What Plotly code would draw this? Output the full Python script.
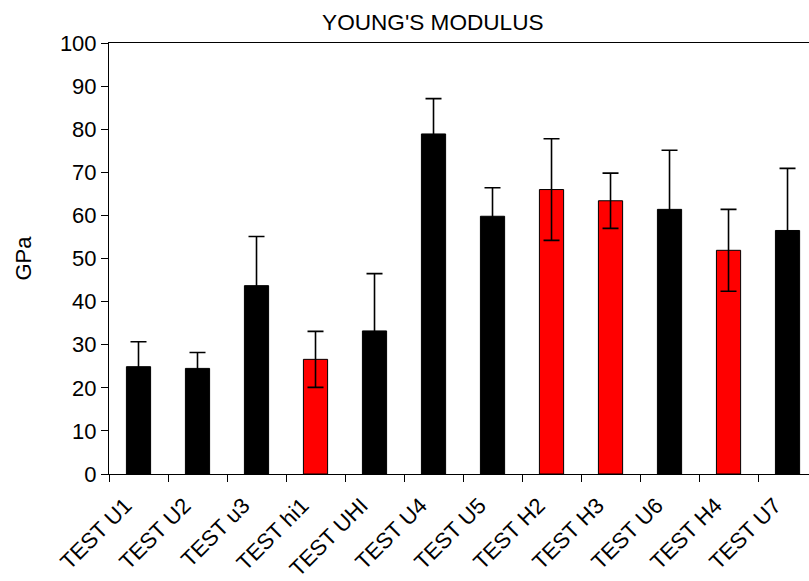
import plotly.graph_objects as go

# Young's modulus per test specimen (GPa) with standard deviations
categories = ["TEST U1", "TEST U2", "TEST u3", "TEST hi1", "TEST UHI", "TEST U4",
              "TEST U5", "TEST H2", "TEST H3", "TEST U6", "TEST H4", "TEST U7"]
modulus = [24.9, 24.5, 43.7, 26.6, 33.2, 78.9, 59.8, 66.0, 63.4, 61.4, 51.9, 56.5]
std_dev = [5.8, 3.7, 11.4, 6.5, 13.3, 8.2, 6.6, 11.8, 6.4, 13.7, 9.5, 14.4]
heat_treated = [False, False, False, True, False, False, False, True, True, False, True, False]

y_ticks = list(range(0, 101, 10))

FONT = "Liberation Sans, Arial, sans-serif"
FS = 22
bar_colors = ["#FF0000" if h else "#000000" for h in heat_treated]

fig = go.Figure()
fig.add_trace(go.Bar(
    x=categories,
    y=modulus,
    marker=dict(color=bar_colors, line=dict(color="#000000", width=1)),
    error_y=dict(type="data", array=std_dev, visible=True,
                 color="#000000", thickness=1.6, width=8),
    showlegend=False,
))

n = len(categories)
boundaries = [i - 0.5 for i in range(n + 1)]
x_range = [-0.5, n - 0.636]

fig.update_layout(
    width=809, height=581,
    margin=dict(l=109, r=0, t=43, b=107),
    paper_bgcolor="white", plot_bgcolor="white",
    font=dict(family=FONT, size=FS, color="#000000"),
    bargap=0.59,
    title=dict(text="YOUNG'S MODULUS", font=dict(family=FONT, size=22.6, color="#000000"),
               x=0.535, xref="container", xanchor="center",
               y=0.962, yref="container", yanchor="middle"),
    xaxis=dict(
        type="category", range=x_range, tickson="boundaries", automargin=False,
        ticks="outside", ticklen=7, tickwidth=1, tickcolor="#000000",
        tickangle=-45, tickfont=dict(family=FONT, size=FS),
        ticklabelstandoff=9, ticklabelshift=-13,
        showline=True, linecolor="#000000", linewidth=1, mirror=True,
        showgrid=False, zeroline=False, fixedrange=True,
    ),
    xaxis2=dict(
        overlaying="x", anchor="y", side="bottom", range=x_range,
        tickmode="array", tickvals=boundaries, showticklabels=False,
        ticks="inside", ticklen=7, tickwidth=1, tickcolor="#000000",
        showline=False, showgrid=False, zeroline=False,
    ),
    yaxis=dict(
        range=[0, 100], tickmode="array", tickvals=y_ticks, automargin=False,
        ticks="outside", ticklen=7, tickwidth=1, tickcolor="#000000",
        tickfont=dict(family=FONT, size=FS),
        showline=True, linecolor="#000000", linewidth=1,
        showgrid=False, zeroline=False,
        title=dict(text="GPa", font=dict(family=FONT, size=FS), standoff=22),
    ),
)

fig.write_html("out.html")
